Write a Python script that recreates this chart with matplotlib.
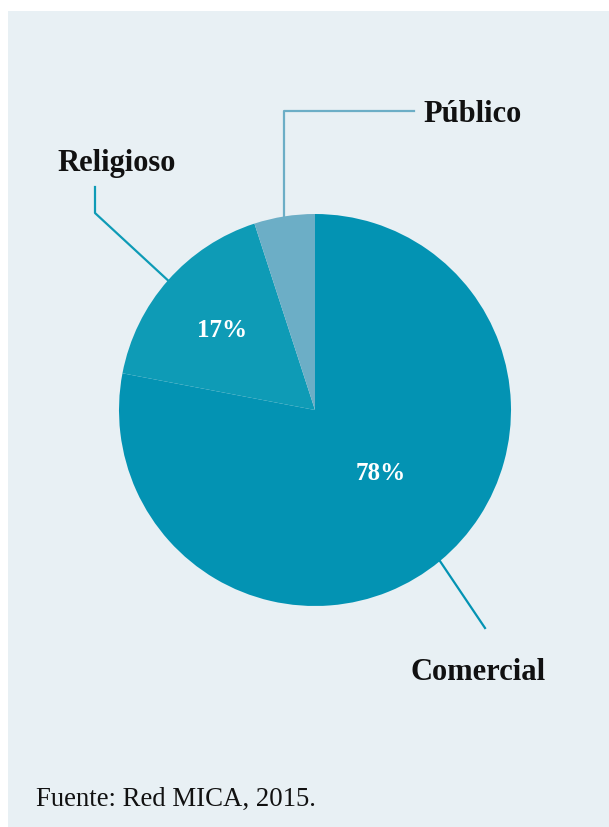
import numpy as np
import matplotlib
matplotlib.use("Agg")
import matplotlib.pyplot as plt
from matplotlib.patches import Rectangle

# Share of community radio stations by type
categories = ["Comercial", "Religioso", "Público"]
shares = [78, 17, 5]
pct_labels = ["78%", "17%", ""]
source = "Fuente: Red MICA, 2015."

colors = ["#0393b3", "#0e9bb6", "#6caec6"]
bg = "#e8f0f4"
W, H = 609, 827

fig = plt.figure(figsize=(W / 100, H / 100), dpi=100)
fig.patch.set_facecolor("white")
ax = fig.add_axes([0, 0, 1, 1])
ax.set_xlim(0, W)
ax.set_ylim(0, H)
ax.set_aspect("equal")
ax.axis("off")

# light panel behind the chart
ax.add_patch(Rectangle((8, 0), W - 8, H - 11, facecolor=bg, edgecolor="none", zorder=0))

cx, cy, r = 315, H - 410, 196
wedges, _ = ax.pie(shares, colors=colors, startangle=90, counterclock=False,
                   center=(cx, cy), radius=r, frame=True,
                   wedgeprops=dict(linewidth=0, zorder=2))
ax.set_xlim(0, W)
ax.set_ylim(0, H)
ax.axis("off")

serif = ["Liberation Serif", "DejaVu Serif"]


def mid_angle(w):
    return np.deg2rad((w.theta1 + w.theta2) / 2)


def edge_point(w, frac=1.0):
    a = mid_angle(w)
    return cx + frac * r * np.cos(a), cy + frac * r * np.sin(a)


# percentage labels inside the two larger slices
for w, txt, frac, dang in zip(wedges, pct_labels, [0.46, 0.63, 0], [7, 0, 0]):
    if not txt:
        continue
    a = mid_angle(w) + np.deg2rad(dang)
    ax.text(cx + frac * r * np.cos(a), cy + frac * r * np.sin(a) - 2, txt,
            color="white", fontsize=18, fontweight="bold", family=serif,
            ha="center", va="center", zorder=3)

# leader lines and category names
lw = 1.6
label_kw = dict(fontsize=22, fontweight="bold", family=serif,
                ha="center", va="center", color="#111111")
# Comercial
x0, y0 = edge_point(wedges[0])
ax.plot([x0, 485], [y0, H - 628], color=colors[0], lw=lw, zorder=1)
ax.text(478, H - 673, categories[0], **label_kw)
# Religioso
x0, y0 = edge_point(wedges[1])
ax.plot([x0, 95, 95], [y0, H - 213, H - 187], color=colors[1], lw=lw, zorder=1)
ax.text(117, H - 163, categories[1], **label_kw)
# Público
x0, y0 = edge_point(wedges[2])
ax.plot([x0, x0, 414], [y0, H - 111, H - 111], color=colors[2], lw=lw, zorder=1)
ax.text(473, H - 115, categories[2], **label_kw)

ax.text(36, H - 799, source, fontsize=19.3, family=serif, ha="left", va="center",
        color="#111111")

fig.savefig("out.png", dpi=100, facecolor=fig.get_facecolor())
